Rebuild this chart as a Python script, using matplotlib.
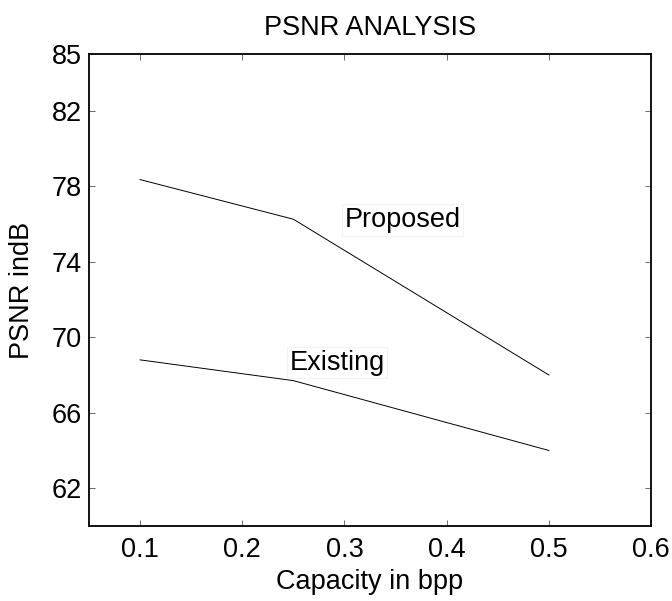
import matplotlib
matplotlib.use("Agg")
import matplotlib.pyplot as plt

plt.rcParams['font.family'] = ['Liberation Sans', 'DejaVu Sans']

# data
capacity = [0.1, 0.25, 0.5]
psnr_proposed = [78.35, 76.25, 68.0]
psnr_existing = [68.8, 67.7, 64.0]
xticks = [0.1, 0.2, 0.3, 0.4, 0.5, 0.6]
yticks = [62, 66, 70, 74, 78, 82, 85]

fs = 19.5

fig = plt.figure(figsize=(6.72, 6.01), dpi=100)
ax = fig.add_axes([0.1324, 0.1248, 0.8364, 0.7853])

ax.plot(capacity, psnr_proposed, color="black", linewidth=0.7)
ax.plot(capacity, psnr_existing, color="black", linewidth=0.7)

# faint label boxes, like the matlab text objects
box = dict(boxstyle="square,pad=0.1", facecolor="none", edgecolor="#f2f2f2", linewidth=0.8)
ax.text(0.30, 76.2, "Proposed", fontsize=fs, ha="left", va="center", bbox=box)
ax.text(0.246, 68.65, "Existing", fontsize=fs, ha="left", va="center", bbox=box)

ax.set_xlim(0.05, 0.6)
ax.set_ylim(60, 85)
ax.set_xticks(xticks)
ax.set_xticklabels([str(v) for v in xticks])
ax.set_yticks(yticks)

ax.tick_params(direction="in", length=4.5, width=0.6, top=True, right=True,
               labelsize=fs, color="#555555")
ax.tick_params(axis="x", pad=8)
ax.tick_params(axis="y", pad=5)
for s in ax.spines.values():
    s.set_linewidth(1.3)
    s.set_color("black")

ax.set_title("PSNR ANALYSIS", fontsize=fs, pad=14)
ax.set_xlabel("Capacity in bpp", fontsize=fs, labelpad=4)
ax.set_ylabel("PSNR indB", fontsize=fs, labelpad=12)

fig.savefig("out.png", dpi=100)
